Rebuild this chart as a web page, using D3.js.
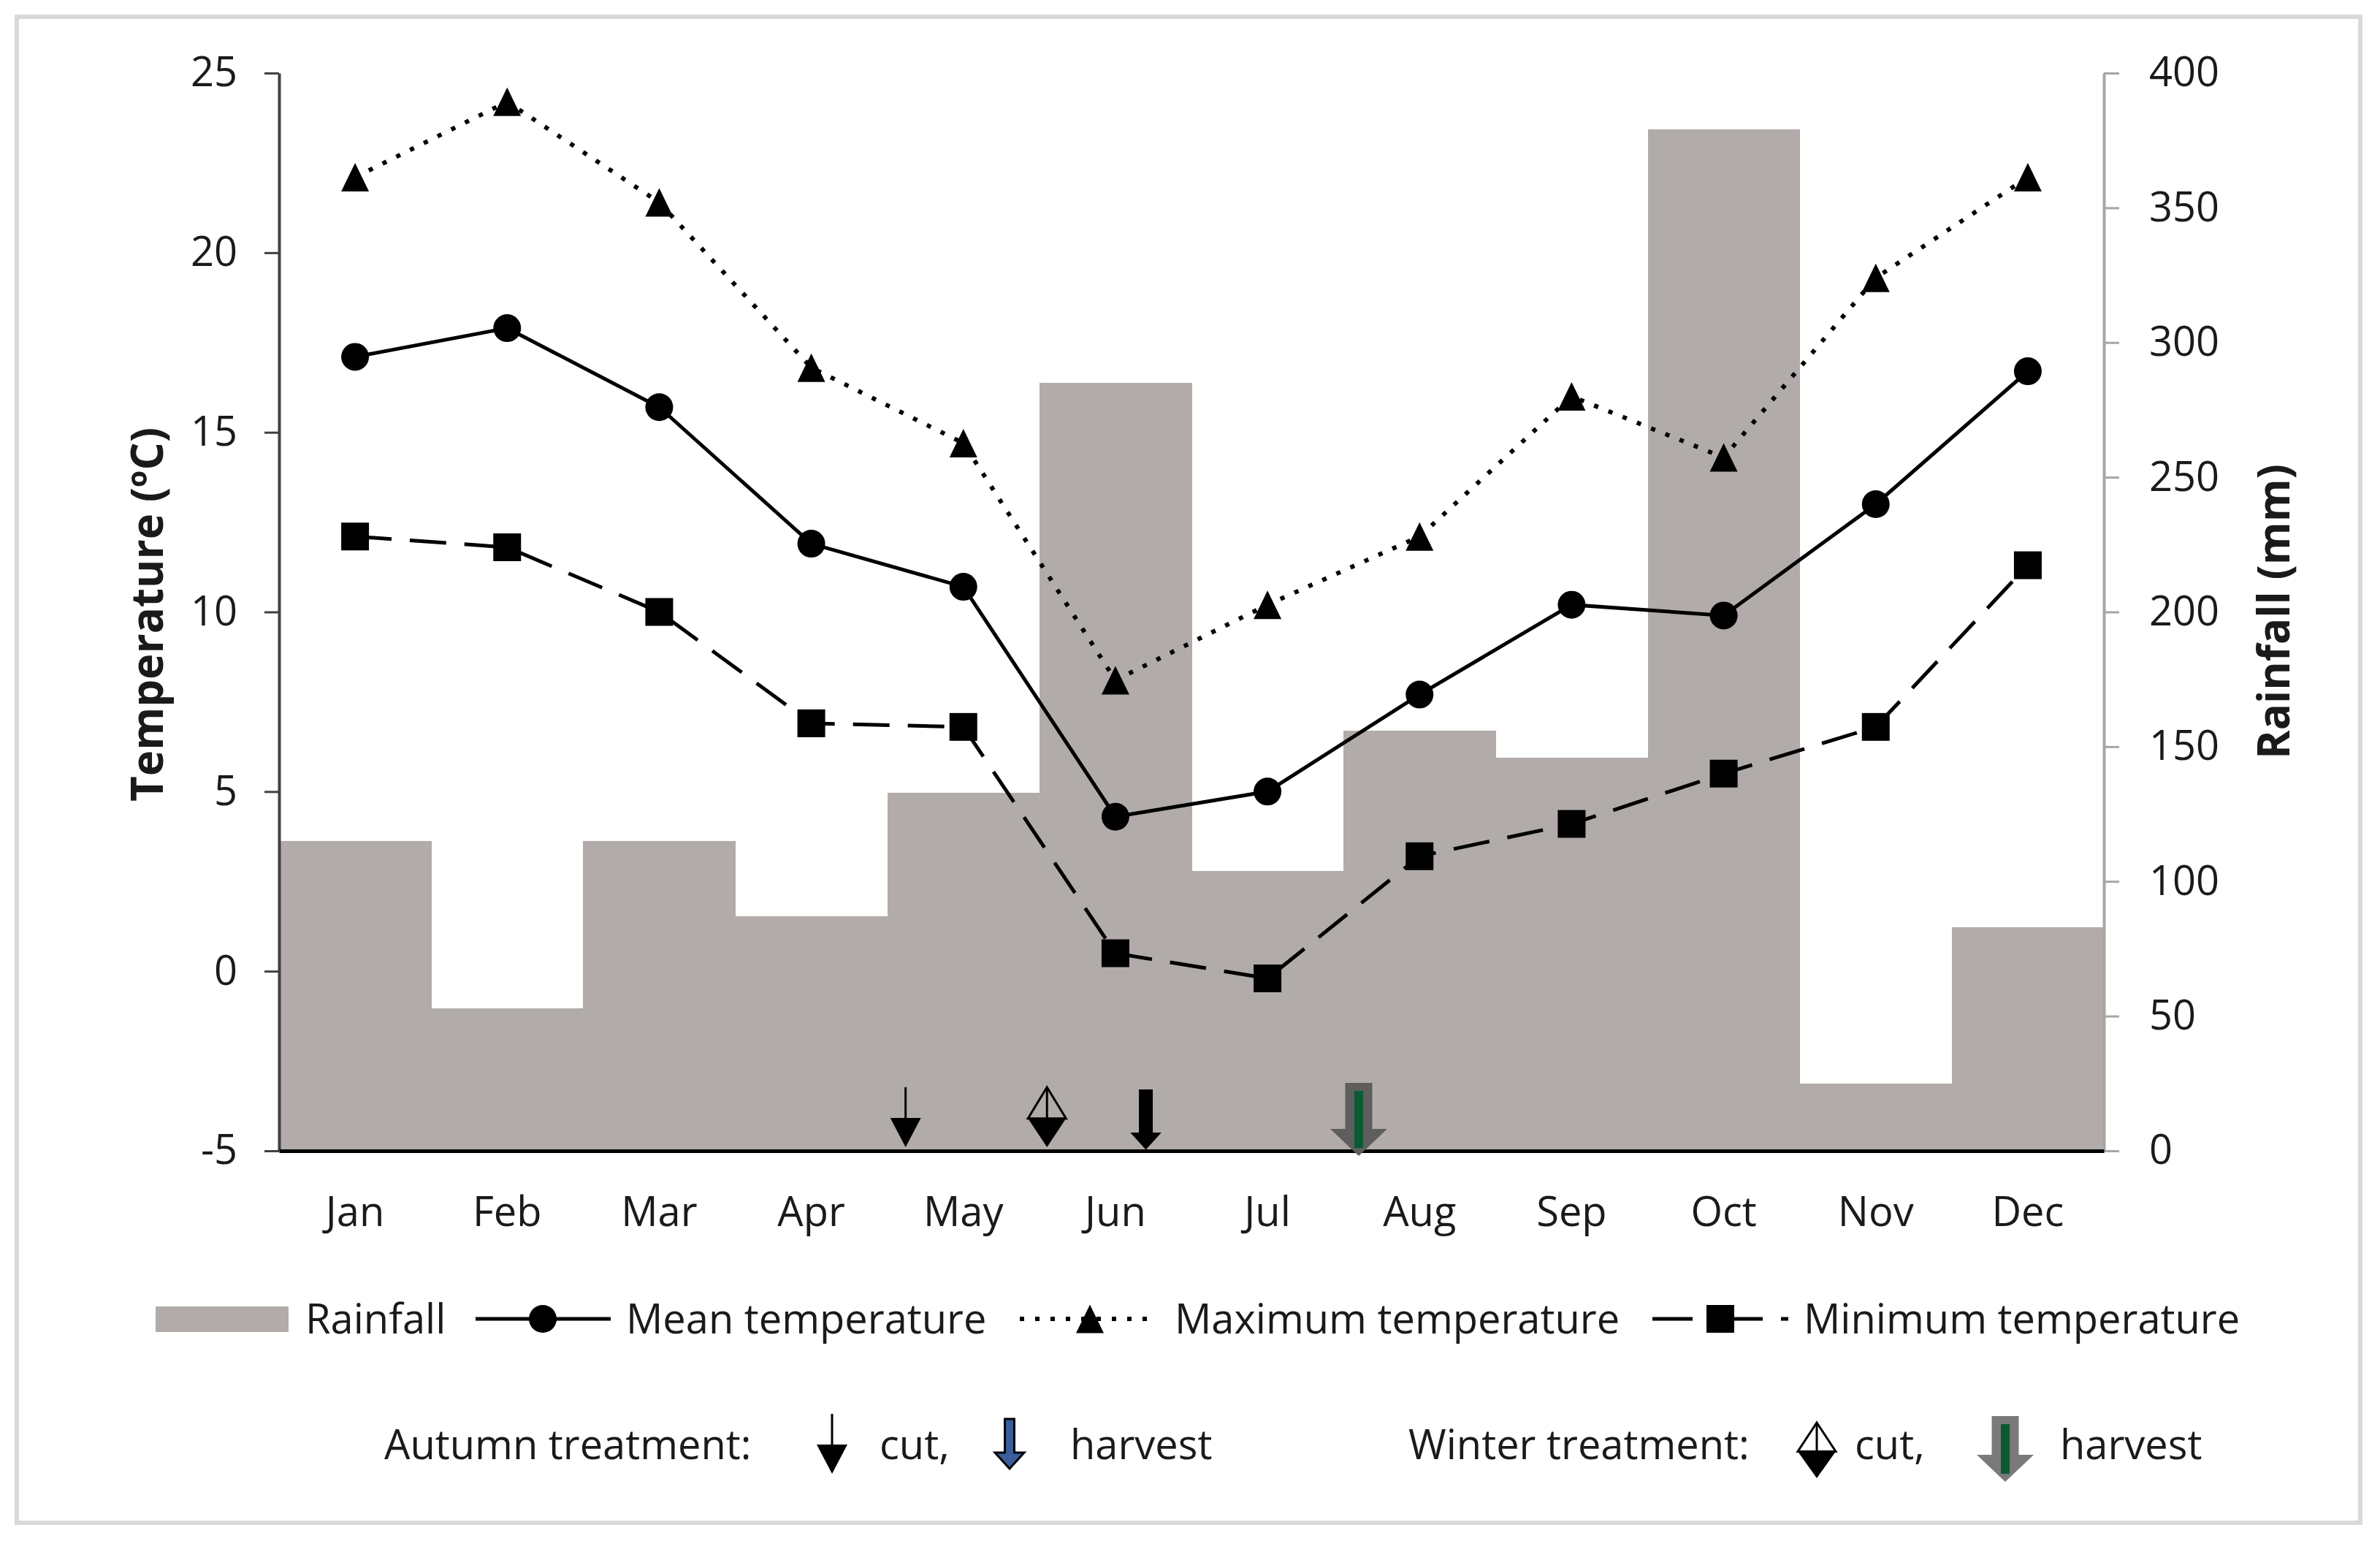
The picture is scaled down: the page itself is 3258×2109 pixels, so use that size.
<!DOCTYPE html>
<html><head><meta charset="utf-8">
<script src="https://cdn.jsdelivr.net/npm/d3@7"></script>
<style>
body{margin:0;background:#fff}
svg{display:block}
text{font-family:"Open Sans",sans-serif;fill:#1a1a1a}
</style>
</head><body>
<svg id="c" width="3258" height="2109"></svg>
<script>
// ---------- data ----------
const months = ["Jan","Feb","Mar","Apr","May","Jun","Jul","Aug","Sep","Oct","Nov","Dec"];
const rainfall = [115,53,115,87,133,285,104,156,146,379,25,83];          // mm
const meanTemp = [17.1,17.9,15.7,11.9,10.7,4.3,5.0,7.7,10.2,9.9,13.0,16.7]; // degC
const maxTemp  = [22.1,24.2,21.4,16.8,14.7,8.1,10.2,12.1,16.0,14.3,19.3,22.1];
const minTemp  = [12.1,11.8,10.0,6.9,6.8,0.5,-0.2,3.2,4.1,5.5,6.8,11.3];
const tempTicks = [-5,0,5,10,15,20,25];
const rainTicks = [0,50,100,150,200,250,300,350,400];
const treatmentNames = ["Autumn cut","Winter cut","Autumn harvest","Winter harvest"];
const treatmentPositions = [4.12,5.05,5.70,7.10]; // position in months (0 = start of Jan)
const treatmentTypes = ["thin","diamond","harvestA","harvestW"];
const seriesNames = ["Rainfall","Mean temperature","Maximum temperature","Minimum temperature"];

// ---------- layout ----------
const L=382,R=2880,T=100,B=1575;
const svg=d3.select("#c");

svg.append("rect").attr("x",23).attr("y",23).attr("width",3208).attr("height",2061)
  .attr("fill","none").attr("stroke","#d9d9d9").attr("stroke-width",6);

const x=d3.scaleBand().domain(months).range([L,R]).padding(0);
const xPos=d3.scaleLinear().domain([0,12]).range([L,R]);
const yT=d3.scaleLinear().domain([-5,25]).range([B,T]);
const yR=d3.scaleLinear().domain([0,400]).range([B,T]);

const barColor="#b1aca9";

// bars
svg.append("g").attr("shape-rendering","crispEdges").selectAll("rect").data(rainfall).join("rect")
  .attr("x",(d,i)=>x(months[i])).attr("width",x.bandwidth()+0.6)
  .attr("y",d=>yR(d)).attr("height",d=>yR(0)-yR(d))
  .attr("fill",barColor);

// axes
const fmt=d=>String(d);
const gL=svg.append("g").attr("transform",`translate(${L},0)`)
  .call(d3.axisLeft(yT).tickValues(tempTicks).tickFormat(fmt).tickSize(20).tickSizeOuter(0).tickPadding(37));
gL.select(".domain").attr("stroke","#404040").attr("stroke-width",4);
gL.selectAll(".tick line").attr("stroke","#404040").attr("stroke-width",3);
gL.selectAll(".tick text").attr("font-size",56).attr("font-family","Open Sans").attr("fill","#1a1a1a");

const gR=svg.append("g").attr("transform",`translate(${R},0)`)
  .call(d3.axisRight(yR).tickValues(rainTicks).tickFormat(fmt).tickSize(21).tickSizeOuter(0).tickPadding(41));
gR.select(".domain").attr("stroke","#a6a6a6").attr("stroke-width",4);
gR.selectAll(".tick line").attr("stroke","#a6a6a6").attr("stroke-width",3);
gR.selectAll(".tick text").attr("font-size",56).attr("font-family","Open Sans").attr("fill","#1a1a1a");

const gB=svg.append("g").attr("transform",`translate(0,${B})`)
  .call(d3.axisBottom(x).tickSize(0).tickSizeOuter(0).tickPadding(63));
gB.select(".domain").attr("stroke","#000").attr("stroke-width",5);
gB.selectAll(".tick text").attr("font-size",56).attr("font-family","Open Sans").attr("fill","#1a1a1a");

// axis titles
svg.append("text").attr("transform","translate(200,841) rotate(-90)")
  .attr("text-anchor","middle").attr("dominant-baseline","central")
  .attr("font-size",60).attr("font-weight","bold").text("Temperature (ºC)");
svg.append("text").attr("transform","translate(3111,837) rotate(-90)")
  .attr("text-anchor","middle").attr("dominant-baseline","central")
  .attr("font-size",60).attr("font-weight","bold").text("Rainfall (mm)");

// lines
const cx=i=>x(months[i])+x.bandwidth()/2;
function line(vals){return d3.line().x((d,i)=>cx(i)).y(d=>yT(d))(vals);}
svg.append("path").attr("d",line(minTemp)).attr("fill","none").attr("stroke","#000")
  .attr("stroke-width",5).attr("stroke-dasharray","50 25");
svg.append("path").attr("d",line(maxTemp)).attr("fill","none").attr("stroke","#000")
  .attr("stroke-width",6).attr("stroke-dasharray","6 15");
svg.append("path").attr("d",line(meanTemp)).attr("fill","none").attr("stroke","#000")
  .attr("stroke-width",5);

// markers
function tri(px,py,w,h){return `M${px},${py-h/2}L${px+w/2},${py+h/2}L${px-w/2},${py+h/2}Z`;}
svg.append("g").selectAll("circle").data(meanTemp).join("circle")
  .attr("cx",(d,i)=>cx(i)).attr("cy",d=>yT(d)).attr("r",19).attr("fill","#000");
svg.append("g").selectAll("path").data(maxTemp).join("path")
  .attr("d",(d,i)=>tri(cx(i),yT(d),38,39)).attr("fill","#000");
svg.append("g").selectAll("rect").data(minTemp).join("rect")
  .attr("x",(d,i)=>cx(i)-19).attr("y",d=>yT(d)-19).attr("width",38).attr("height",38).attr("fill","#000");

// ---------- arrow symbols ----------
function drawArrow(g,type,px,top,tip,legend){
  if(type==="thin"){
    const hh=40,hw=42;
    g.append("line").attr("x1",px).attr("x2",px).attr("y1",top).attr("y2",tip-hh+2)
      .attr("stroke","#000").attr("stroke-width",3);
    g.append("path").attr("d",`M${px-hw/2},${tip-hh}L${px+hw/2},${tip-hh}L${px},${tip}Z`).attr("fill","#000");
  } else if(type==="diamond"){
    const w=52, base=top+(tip-top)*0.52;
    g.append("path").attr("d",`M${px-w/2},${base}L${px+w/2},${base}L${px},${tip}Z`).attr("fill","#000");
    g.append("path").attr("d",`M${px},${top}L${px+w/2},${base}L${px-w/2},${base}Z`)
      .attr("fill","none").attr("stroke","#000").attr("stroke-width",3).attr("stroke-linejoin","miter");
    g.append("line").attr("x1",px).attr("x2",px).attr("y1",top).attr("y2",base)
      .attr("stroke","#000").attr("stroke-width",3);
  } else if(type==="harvestA"){
    const sw=legend?13:17, hw=legend?40:38, hh=legend?22:21;
    const hy=tip-hh;
    g.append("path").attr("d",`M${px-sw/2},${top}L${px+sw/2},${top}L${px+sw/2},${hy}L${px+hw/2},${hy}L${px},${tip}L${px-hw/2},${hy}L${px-sw/2},${hy}Z`)
      .attr("fill",legend?"#3a5d9c":"#000").attr("stroke","#000").attr("stroke-width",legend?3:2).attr("stroke-linejoin","miter");
  } else if(type==="harvestW"){
    const sw=37, hw=78, hh=37;
    const hy=tip-hh;
    g.append("path").attr("d",`M${px-sw/2},${top}L${px+sw/2},${top}L${px+sw/2},${hy}L${px+hw/2},${hy}L${px},${tip}L${px-hw/2},${hy}L${px-sw/2},${hy}Z`)
      .attr("fill",legend?"#7a7a7a":"#5e5e5e");
    g.append("rect").attr("x",px-6).attr("width",12).attr("y",top+11).attr("height",(tip-top)-22)
      .attr("fill","#0b5a34");
  }
}

// arrows in chart
const chartArrowSpan={thin:[1488,1570],diamond:[1488,1570],harvestA:[1492,1572],harvestW:[1482,1582]};
const gA=svg.append("g");
treatmentPositions.forEach((p,i)=>{
  const t=treatmentTypes[i];
  drawArrow(gA.append("g").attr("class","treat").attr("data-name",treatmentNames[i]),t,xPos(p),chartArrowSpan[t][0],chartArrowSpan[t][1],false);
});

// ---------- legend row 1 ----------
const lg=svg.append("g");
const ly=1805, lb=1825;
lg.append("rect").attr("x",213).attr("y",1788).attr("width",182).attr("height",35).attr("fill",barColor);
lg.append("text").attr("x",418).attr("y",lb).attr("font-size",56).text(seriesNames[0]);
lg.append("line").attr("x1",651).attr("x2",836).attr("y1",ly).attr("y2",ly).attr("stroke","#000").attr("stroke-width",5);
lg.append("circle").attr("cx",743).attr("cy",ly).attr("r",19).attr("fill","#000");
lg.append("text").attr("x",857).attr("y",lb).attr("font-size",56).text(seriesNames[1]);
lg.append("line").attr("x1",1396).attr("x2",1570).attr("y1",ly).attr("y2",ly).attr("stroke","#000")
  .attr("stroke-width",6).attr("stroke-dasharray","6 15");
lg.append("path").attr("d",tri(1492,ly,38,39)).attr("fill","#000");
lg.append("text").attr("x",1608).attr("y",lb).attr("font-size",56).text(seriesNames[2]);
lg.append("line").attr("x1",2262).attr("x2",2448).attr("y1",ly).attr("y2",ly).attr("stroke","#000")
  .attr("stroke-width",5).attr("stroke-dasharray","55 40 56 25 40");
lg.append("rect").attr("x",2336).attr("y",ly-19).attr("width",38).attr("height",38).attr("fill","#000");
lg.append("text").attr("x",2469).attr("y",lb).attr("font-size",56).text(seriesNames[3]);

// ---------- legend row 2 ----------
const rb=1997;
lg.append("text").attr("x",526).attr("y",rb).attr("font-size",56).text("Autumn treatment:");
drawArrow(lg.append("g"),"thin",1139,1935,2017,true);
lg.append("text").attr("x",1204).attr("y",rb).attr("font-size",56).text("cut,");
drawArrow(lg.append("g"),"harvestA",1382,1942,2010,true);
lg.append("text").attr("x",1465).attr("y",rb).attr("font-size",56).text("harvest");
lg.append("text").attr("x",1928).attr("y",rb).attr("font-size",56).text("Winter treatment:");
drawArrow(lg.append("g"),"diamond",2487,1947,2023,true);
lg.append("text").attr("x",2539).attr("y",rb).attr("font-size",56).text("cut,");
drawArrow(lg.append("g"),"harvestW",2745,1938,2028,true);
lg.append("text").attr("x",2820).attr("y",rb).attr("font-size",56).text("harvest");
</script>
</body></html>
